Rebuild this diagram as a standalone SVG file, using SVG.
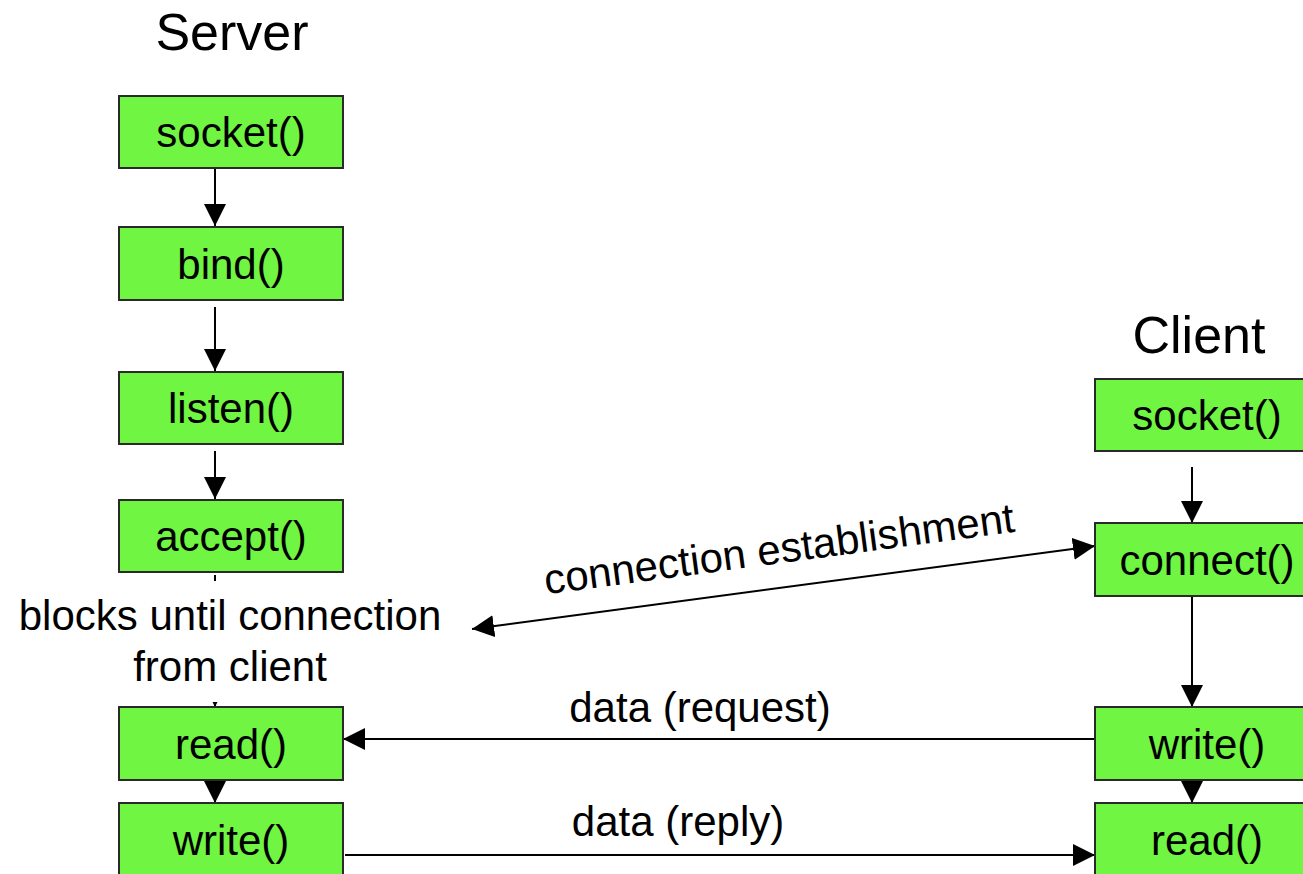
<svg xmlns="http://www.w3.org/2000/svg" width="1303" height="874" viewBox="0 0 1303 874">
  <style>
    .box { fill: #6ff542; stroke: #2a2a2a; stroke-width: 2; }
    .lbl { font-family: "Liberation Sans", Arial, sans-serif; font-size: 42px; fill: #000; text-anchor: middle; }
    .title { font-family: "Liberation Sans", Arial, sans-serif; font-size: 52px; fill: #000; text-anchor: middle; }
    .edge { stroke: #000; stroke-width: 2; fill: none; }
  </style>
  <defs>
    <marker id="arrow" markerUnits="userSpaceOnUse" markerWidth="22" markerHeight="22" viewBox="0 0 20 20" refX="20" refY="10" orient="auto">
      <path d="M0,0 L20,10 L0,20 Z" fill="#000"/>
    </marker>
    <marker id="arrowStart" markerUnits="userSpaceOnUse" markerWidth="22" markerHeight="22" viewBox="0 0 20 20" refX="0" refY="10" orient="auto">
      <path d="M20,0 L0,10 L20,20 Z" fill="#000"/>
    </marker>
  </defs>
  <rect width="1303" height="874" fill="#fff"/>

  <!-- column titles -->
  <text class="title" x="232" y="50">Server</text>
  <text class="title" x="1199" y="353">Client</text>

  <!-- connectors -->
  <g id="connectors">
    <line class="edge" x1="215" y1="163" x2="215" y2="226" marker-end="url(#arrow)"/>
    <line class="edge" x1="215" y1="307" x2="215" y2="371" marker-end="url(#arrow)"/>
    <line class="edge" x1="215" y1="451" x2="215" y2="499" marker-end="url(#arrow)"/>
    <line class="edge" x1="215" y1="575" x2="215" y2="707" marker-end="url(#arrow)"/>
    <line class="edge" x1="215" y1="781" x2="215" y2="803" marker-end="url(#arrow)"/>
    <line class="edge" x1="1192" y1="467" x2="1192" y2="523" marker-end="url(#arrow)"/>
    <line class="edge" x1="1192" y1="596" x2="1192" y2="707" marker-end="url(#arrow)"/>
    <line class="edge" x1="1192" y1="781" x2="1192" y2="803" marker-end="url(#arrow)"/>
    <line class="edge" x1="472" y1="629" x2="1095" y2="546" marker-start="url(#arrowStart)" marker-end="url(#arrow)"/>
    <line class="edge" x1="1095" y1="739" x2="343" y2="739" marker-end="url(#arrow)"/>
    <line class="edge" x1="345" y1="855" x2="1095" y2="855" marker-end="url(#arrow)"/>
  </g>

  <!-- note under accept(), on a white backing -->
  <g id="note-blocks">
    <rect x="10" y="581" width="440" height="121" fill="#fff"/>
    <text class="lbl" x="230" y="630">blocks until connection</text>
    <text class="lbl" x="230" y="681">from client</text>
  </g>

  <!-- server side -->
  <g id="server-socket"><rect class="box" x="119" y="96" width="224" height="72"/><text class="lbl" x="231" y="147">socket()</text></g>
  <g id="server-bind"><rect class="box" x="119" y="227" width="224" height="73"/><text class="lbl" x="231" y="279">bind()</text></g>
  <g id="server-listen"><rect class="box" x="119" y="372" width="224" height="72"/><text class="lbl" x="231" y="423">listen()</text></g>
  <g id="server-accept"><rect class="box" x="119" y="500" width="224" height="72"/><text class="lbl" x="231" y="551">accept()</text></g>
  <g id="server-read"><rect class="box" x="119" y="707" width="224" height="73"/><text class="lbl" x="231" y="759">read()</text></g>
  <g id="server-write"><rect class="box" x="119" y="803" width="224" height="80"/><text class="lbl" x="231" y="855">write()</text></g>

  <!-- client side -->
  <g id="client-socket"><rect class="box" x="1095" y="379" width="224" height="72"/><text class="lbl" x="1207" y="430">socket()</text></g>
  <g id="client-connect"><rect class="box" x="1095" y="523" width="224" height="73"/><text class="lbl" x="1207" y="575">connect()</text></g>
  <g id="client-write"><rect class="box" x="1095" y="707" width="224" height="73"/><text class="lbl" x="1207" y="759">write()</text></g>
  <g id="client-read"><rect class="box" x="1095" y="803" width="224" height="80"/><text class="lbl" x="1207" y="855">read()</text></g>

  <!-- message labels -->
  <g id="edge-labels">
    <text class="lbl" x="0" y="0" transform="translate(781,563) rotate(-7.6)">connection establishment</text>
    <text class="lbl" x="700" y="722">data (request)</text>
    <text class="lbl" x="678" y="836">data (reply)</text>
  </g>
</svg>
